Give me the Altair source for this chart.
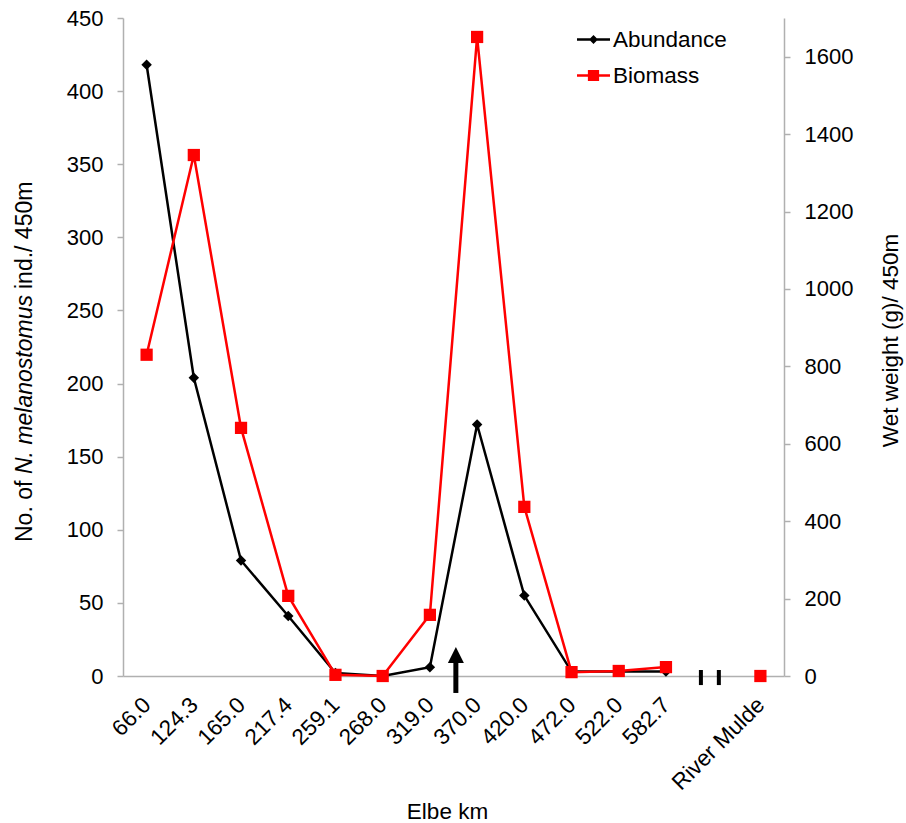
import json
import altair as alt
import pandas as pd

# ---------------- data ----------------
sites = ["66.0", "124.3", "165.0", "217.4", "259.1", "268.0", "319.0",
         "370.0", "420.0", "472.0", "522.0", "582.7", "", "River Mulde"]
abundance = [418, 204, 79, 41, 2, 0, 6, 172, 55, 3, 3, 3, None, 0]
biomass = [830, 1346, 641, 207, 3, 0, 158, 1651, 437, 10, 13, 23, None, 0]
connected = [1] * 12 + [0, 0]          # River Mulde is not joined to the river km series

series_names = ["Abundance", "Biomass"]
series_colors = ["black", "red"]

left_ticks = list(range(0, 451, 50))
right_ticks = list(range(0, 1601, 200))

# annotations (in category-index / abundance units)
arrow_x = [7.55]
arrow_shaft = [-11.6, 8.9]
arrow_tip = [14.4]
break_x = [12.74, 13.12]
break_y = [-6.2, 4.1]

# y-axis title pieces (N. melanostomus in italics)
title_parts = ["No. of", "N. melanostomus", "ind./ 450m"]
title_ypix = [524, 456, 271]

FONT = "Liberation Sans"
GRAY = "#b0b0b0"
W, H = 661, 658
XDOM = [0.5, len(sites) + 0.5]

df = pd.DataFrame({
    "pos": list(range(1, len(sites) + 1)),
    "site": sites,
    "abundance": abundance,
    "biomass": biomass,
    "connected": connected,
})

label_expr = json.dumps(sites) + "[datum.value - 1]"

x_axis = alt.Axis(
    values=list(range(1, len(sites) + 1)),
    labelExpr=label_expr,
    labelAngle=315,
    labelAlign="right",
    labelBaseline="middle",
    labelPadding=25,
    labelFontSize=22.5,
    labelColor="black",
    labelFont=FONT,
    labelOverlap=False,
    ticks=False,
    grid=False,
    domainColor=GRAY,
    domainWidth=1.5,
    title="Elbe km",
    titleFont=FONT,
    titleFontSize=22.5,
    titleFontWeight="normal",
    titleColor="black",
    titleX=324,
    titleY=142,
    titleAlign="center",
    titleBaseline="alphabetic",
)
left_axis = alt.Axis(
    values=left_ticks,
    tickSize=6,
    tickColor=GRAY,
    tickWidth=1.5,
    domainColor=GRAY,
    domainWidth=1.5,
    labelPadding=14,
    labelFontSize=22,
    labelFont=FONT,
    labelColor="black",
    grid=False,
    title=None,
)
right_axis = alt.Axis(
    orient="right",
    values=right_ticks,
    format="d",
    tickSize=6,
    tickColor=GRAY,
    tickWidth=1.5,
    domainColor=GRAY,
    domainWidth=1.5,
    labelPadding=14,
    labelFontSize=22,
    labelFont=FONT,
    labelColor="black",
    grid=False,
    title="Wet weight (g)/ 450m",
    titleFont=FONT,
    titleFontSize=22.5,
    titleFontWeight="normal",
    titleColor="black",
    titleAngle=270,
    titleX=113,
    titleY=322,
    titleAlign="center",
    titleBaseline="alphabetic",
)

xs = alt.Scale(domain=XDOM, nice=False, zero=False)
ls = alt.Scale(domain=[0, 450], nice=False)
rs = alt.Scale(domain=[0, 1700], nice=False)

base = alt.Chart(df)

# ---- abundance group (left axis) ----
ab_line = base.mark_line(color="black", strokeWidth=2.5).encode(
    x=alt.X("pos:Q", scale=xs, axis=x_axis),
    y=alt.Y("abundance:Q", scale=ls, axis=left_axis),
).transform_filter("datum.connected == 1")

ab_pts = base.mark_point(shape="diamond", filled=True, size=110, color="black", opacity=1).encode(
    x=alt.X("pos:Q", scale=xs, axis=x_axis),
    y=alt.Y("abundance:Q", scale=ls, axis=left_axis),
).transform_filter("isValid(datum.abundance)")

arrow_rule = alt.Chart(pd.DataFrame({"pos": arrow_x, "abundance": [arrow_shaft[0]], "y2": [arrow_shaft[1]]})).mark_rule(
    color="black", strokeWidth=5
).encode(
    x=alt.X("pos:Q", scale=xs, axis=x_axis),
    y=alt.Y("abundance:Q", scale=ls, axis=left_axis),
    y2="y2:Q",
)
arrow_head = alt.Chart(pd.DataFrame({"pos": arrow_x, "abundance": arrow_tip})).mark_point(
    shape="M0,-1L1,1L-1,1Z", filled=True, size=256, color="black", opacity=1
).encode(
    x=alt.X("pos:Q", scale=xs, axis=x_axis),
    y=alt.Y("abundance:Q", scale=ls, axis=left_axis),
)

breaks = alt.Chart(pd.DataFrame({"pos": break_x, "abundance": [break_y[0]] * 2, "y2": [break_y[1]] * 2})).mark_rule(
    color="black", strokeWidth=4
).encode(
    x=alt.X("pos:Q", scale=xs, axis=x_axis),
    y=alt.Y("abundance:Q", scale=ls, axis=left_axis),
    y2="y2:Q",
)

one = pd.DataFrame({"k": [0]})
title_layers = []
for txt, yp, style in zip(title_parts, title_ypix, ["normal", "italic", "normal"]):
    title_layers.append(
        alt.Chart(one).mark_text(
            angle=270, align="left", baseline="alphabetic", font=FONT, fontSize=23,
            color="black", fontStyle=style, text=txt,
        ).encode(x=alt.value(-91), y=alt.value(yp))
    )

legend_paths = [
    "M-1,-0.075L1,-0.075L1,0.075L-1,0.075Z M0,-0.27L0.27,0L0,0.27L-0.27,0Z",
    "M-1,-0.075L1,-0.075L1,0.075L-1,0.075Z M-0.34,-0.34L0.34,-0.34L0.34,0.34L-0.34,0.34Z",
]
leg = alt.Legend(
    title=None, orient="none", legendX=454, legendY=5, padding=0,
    symbolSize=1089, symbolStrokeWidth=0, labelFont=FONT, labelFontSize=22.5,
    labelColor="black", labelOffset=3, rowPadding=8, symbolOpacity=1,
)
legend_layer = alt.Chart(pd.DataFrame({"series": series_names})).mark_point(
    filled=True, opacity=1
).encode(
    fill=alt.Fill("series:N", scale=alt.Scale(domain=series_names, range=series_colors), legend=leg),
    shape=alt.Shape("series:N", scale=alt.Scale(domain=series_names, range=legend_paths), legend=leg),
).transform_filter("false")

group_a = alt.layer(ab_line, arrow_rule, arrow_head, breaks, ab_pts, *title_layers, legend_layer)

# ---- biomass group (right axis) ----
bio_line = base.mark_line(color="red", strokeWidth=2.5).encode(
    x=alt.X("pos:Q", scale=xs, axis=x_axis),
    y=alt.Y("biomass:Q", scale=rs, axis=right_axis),
).transform_filter("datum.connected == 1")
bio_pts = base.mark_point(shape="square", filled=True, size=150, color="red", opacity=1).encode(
    x=alt.X("pos:Q", scale=xs, axis=x_axis),
    y=alt.Y("biomass:Q", scale=rs, axis=right_axis),
).transform_filter("isValid(datum.biomass)")

group_b = alt.layer(bio_line, bio_pts)

chart = alt.layer(group_a, group_b).resolve_scale(y="independent").properties(
    width=W, height=H,
    autosize=alt.AutoSizeParams(type="none"),
    padding={"left": 123, "top": 18, "right": 906 - 123 - W, "bottom": 823 - 18 - H},
    background="white",
).configure(font=FONT).configure_view(strokeWidth=0)

chart.save("out.html", embed_options={"renderer": "svg", "actions": False})
